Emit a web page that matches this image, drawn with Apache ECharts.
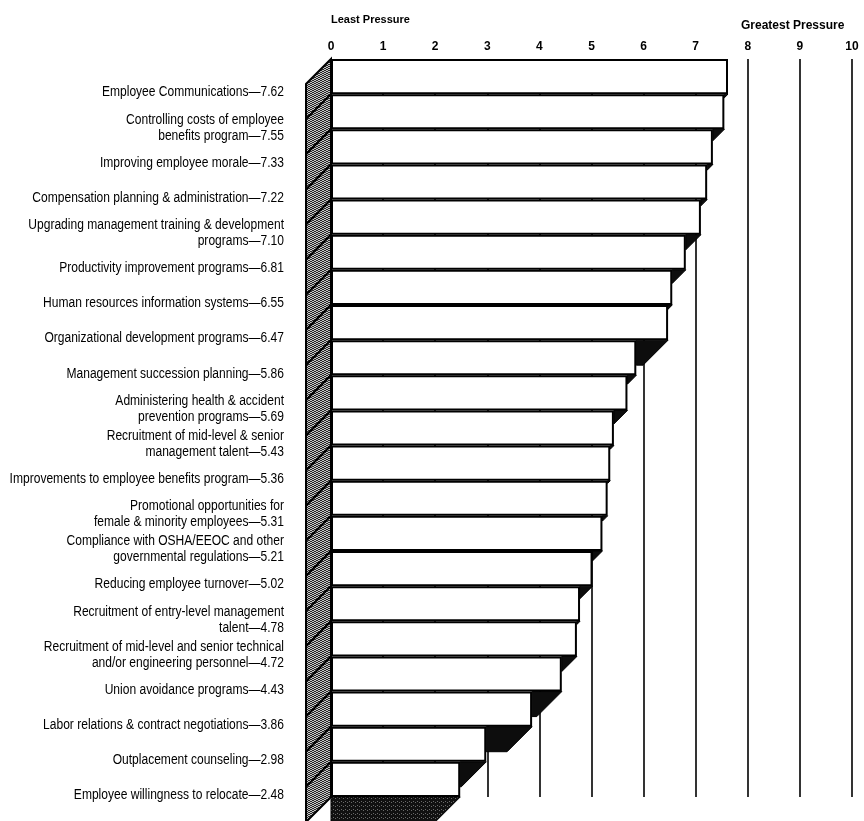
<!DOCTYPE html>
<html>
<head>
<meta charset="utf-8">
<script src="https://cdn.jsdelivr.net/npm/echarts@6/dist/echarts.min.js"></script>
<style>
  html, body { margin: 0; padding: 0; background: #fff; }
  #chart { width: 864px; height: 821px; }
</style>
</head>
<body>
<div id="chart"></div>
<script>
// Human-resources issues, ranked by the pressure they put on management (0 = least, 10 = greatest)
const programs = [
  'Employee Communications',
  'Controlling costs of employee\nbenefits program',
  'Improving employee morale',
  'Compensation planning & administration',
  'Upgrading management training & development\nprograms',
  'Productivity improvement programs',
  'Human resources information systems',
  'Organizational development programs',
  'Management succession planning',
  'Administering health & accident\nprevention programs',
  'Recruitment of mid-level & senior\nmanagement talent',
  'Improvements to employee benefits program',
  'Promotional opportunities for\nfemale & minority employees',
  'Compliance with OSHA/EEOC and other\ngovernmental regulations',
  'Reducing employee turnover',
  'Recruitment of entry-level management\ntalent',
  'Recruitment of mid-level and senior technical\nand/or engineering personnel',
  'Union avoidance programs',
  'Labor relations & contract negotiations',
  'Outplacement counseling',
  'Employee willingness to relocate'
];
const scores = [7.62, 7.55, 7.33, 7.22, 7.10, 6.81, 6.55, 6.47, 5.86, 5.69, 5.43,
                5.36, 5.31, 5.21, 5.02, 4.78, 4.72, 4.43, 3.86, 2.98, 2.48];
const scaleMin = 0;
const scaleMax = 10;
const scaleStep = 1;
const lowEndTitle = 'Least Pressure';
const highEndTitle = 'Greatest Pressure';

// depth of the pseudo-3D wall and cast shadows, in pixels
const DEPTH = 25;
// captions: gap to the wall, drop below the bar middle, horizontal condensing
const LABEL_GAP = 47;
const LABEL_DROP = 16;
const LABEL_NARROW = 0.86;

function stipple(base, dot, dots) {
  const c = document.createElement('canvas');
  c.width = 4; c.height = 4;
  const ctx = c.getContext('2d');
  ctx.fillStyle = base;
  ctx.fillRect(0, 0, 4, 4);
  ctx.fillStyle = dot;
  dots.forEach(([x, y]) => ctx.fillRect(x, y, 1, 1));
  return { image: c, repeat: 'repeat' };
}
const wallFill = stipple('#c4c4c4', '#262626', [[0,0],[2,1],[1,2],[3,3],[3,1],[1,0],[2,3],[0,2]]);
const floorFill = stipple('#111111', '#6a6a6a', [[1,1],[3,2]]);

const chart = echarts.init(document.getElementById('chart'), null, { renderer: 'canvas' });

const option = {
  animation: false,
  backgroundColor: '#ffffff',
  grid: { left: 331, right: 12, top: 59, bottom: 24, outerBoundsMode: 'none', containLabel: false },
  xAxis: {
    type: 'value',
    position: 'top',
    min: scaleMin,
    max: scaleMax,
    interval: scaleStep,
    axisLine: { show: false },
    axisTick: { show: false },
    axisLabel: {
      color: '#000',
      fontFamily: 'Liberation Sans, Arial, sans-serif',
      fontWeight: 'bold',
      fontSize: 12,
      margin: 6
    },
    splitLine: { show: true, lineStyle: { color: '#000', width: 1.6 } }
  },
  yAxis: {
    type: 'category',
    data: programs,
    inverse: true,
    axisLine: { show: false },
    axisTick: { show: false },
    splitLine: { show: false },
    axisLabel: { show: false }
  },
  graphic: [
    {
      type: 'text', left: 331, top: 14,
      style: { text: lowEndTitle, fill: '#000', font: 'bold 11px "Liberation Sans", Arial, sans-serif' }
    },
    {
      type: 'text', left: 741, top: 20,
      style: { text: highEndTitle, fill: '#000', font: 'bold 12px "Liberation Sans", Arial, sans-serif' }
    }
  ],
  series: [
    {
      name: 'score',
      type: 'bar',
      data: scores,
      barWidth: '100%',
      barCategoryGap: 0,
      z: 2,
      itemStyle: { color: '#fff', borderColor: '#000', borderWidth: 2 }
    },
    {
      // shadow each bar casts onto the shorter bar below it (the last one onto the floor)
      name: 'shadow',
      type: 'custom',
      clip: false,
      z: 3,
      data: scores.map((v, i) => [v, i, i + 1 < scores.length ? scores[i + 1] : scaleMin]),
      renderItem: (params, api) => {
        const i = api.value(1);
        const end = api.coord([api.value(0), i]);
        const next = api.coord([api.value(2), i]);
        const h = api.size([0, 1])[1];
        const yb = end[1] + h / 2;
        const xe = end[0], xn = next[0];
        const w = xe - xn;
        if (w <= 0.5) return null;
        const dy = Math.min(DEPTH, w);
        const isFloor = i === scores.length - 1;
        return {
          type: 'polygon',
          shape: { points: [[xn, yb], [xe, yb], [Math.max(xn, xe - DEPTH), yb + dy], [xn, yb + dy]] },
          style: { fill: isFloor ? floorFill : '#0d0d0d', stroke: '#000', lineWidth: 1 }
        };
      }
    },
    {
      // stippled side wall at the zero line
      name: 'wall',
      type: 'custom',
      clip: false,
      z: 4,
      data: scores.map((v, i) => [scaleMin, i]),
      renderItem: (params, api) => {
        const i = api.value(1);
        const p = api.coord([api.value(0), i]);
        const h = api.size([0, 1])[1];
        const x0 = p[0], yt = p[1] - h / 2, yb = p[1] + h / 2;
        return {
          type: 'polygon',
          shape: { points: [[x0, yt], [x0, yb], [x0 - DEPTH, yb + DEPTH], [x0 - DEPTH, yt + DEPTH]] },
          style: { fill: wallFill, stroke: '#000', lineWidth: 2 }
        };
      }
    },
    {
      // condensed captions: item name followed by its score
      name: 'caption',
      type: 'custom',
      clip: false,
      z: 5,
      data: scores.map((v, i) => [scaleMin, i]),
      renderItem: (params, api) => {
        const i = api.value(1);
        const p = api.coord([api.value(0), i]);
        return {
          type: 'text',
          x: p[0] - LABEL_GAP,
          y: p[1] + LABEL_DROP,
          scaleX: LABEL_NARROW,
          style: {
            text: programs[i] + '\u2014' + scores[i].toFixed(2),
            align: 'right',
            verticalAlign: 'middle',
            font: '14px "Liberation Sans", Arial, sans-serif',
            lineHeight: 16,
            fill: '#000'
          }
        };
      }
    }
  ]
};

chart.setOption(option);
</script>
</body>
</html>
